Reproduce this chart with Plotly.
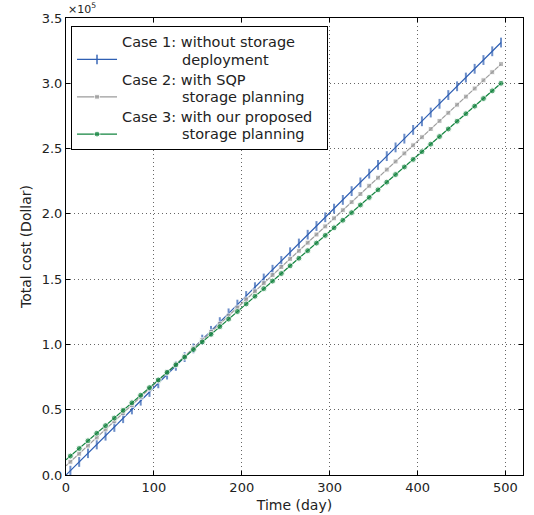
import plotly.graph_objects as go

days = [0, 5, 15, 25, 35, 45, 55, 65, 75, 85, 95, 105, 115, 125, 135, 145, 155, 165, 175, 185,
        195, 205, 215, 225, 235, 245, 255, 265, 275, 285, 295, 305, 315, 325, 335, 345, 355,
        365, 375, 385, 395, 405, 415, 425, 435, 445, 455, 465, 475, 485, 495]

case1 = [0, 3300, 10000, 16700, 23400, 30100, 36800, 43500, 50200, 56900, 63600, 70200, 76900,
         83600, 90300, 97000, 103700, 110400, 117100, 123800, 130500, 137100, 143800, 150500,
         157200, 163900, 170600, 177300, 184000, 190700, 197400, 204000, 210700, 217400, 224100,
         230800, 237500, 244200, 250900, 257600, 264300, 270900, 277600, 284300, 291000, 297700,
         304400, 311100, 317800, 324500, 331200]

case2 = [7000, 10100, 16300, 22500, 28800, 35000, 41200, 47400, 53600, 59800, 66100, 72300, 78500,
         84700, 90900, 97100, 103300, 109600, 115800, 122000, 128200, 134400, 140600, 146900,
         153100, 159300, 165500, 171700, 177900, 184200, 190400, 196600, 202800, 209000, 215200,
         221500, 227700, 233900, 240100, 246300, 252500, 258700, 265000, 271200, 277400, 283600,
         289800, 296000, 302300, 308500, 314700]

case3 = [11600, 14500, 20300, 26200, 32000, 37800, 43600, 49500, 55300, 61100, 66900, 72800, 78600,
         84400, 90300, 96100, 101900, 107700, 113600, 119400, 125200, 131000, 136900, 142700,
         148500, 154300, 160200, 166000, 171800, 177600, 183500, 189300, 195100, 200900, 206800,
         212600, 218400, 224300, 230100, 235900, 241700, 247600, 253400, 259200, 265000, 270900,
         276700, 282500, 288300, 294200, 300000]

ytick_vals = [0, 50000, 100000, 150000, 200000, 250000, 300000, 350000]
ytick_text = ["0.0", "0.5", "1.0", "1.5", "2.0", "2.5", "3.0", "3.5"]
xtick_vals = [0, 100, 200, 300, 400, 500]

legend_lines = [
    ["Case 1: without storage", "deployment"],
    ["Case 2: with SQP", "storage planning"],
    ["Case 3: with our proposed\u00a0\u00a0", "storage planning"],
]

ind = "\u00a0" * 13
def legend_label(lines):
    return "<br>".join(
        '<span style="font-size:14.5px">' + (ind if i > 0 else "") + t + "</span>"
        for i, t in enumerate(lines)
    )

names = [legend_label(l) for l in legend_lines]

blue = "#2f5fb3"
gray = "#9b9b9b"
green = "#13843f"

def sizes(s):
    return [0] + [s] * (len(days) - 1)

fig = go.Figure()
fig.add_trace(go.Scatter(
    x=days, y=case1, name=names[0], mode="lines+markers",
    line=dict(color=blue, width=1.2),
    marker=dict(symbol="line-ns", size=sizes(7), line=dict(color=blue, width=2), color=blue),
))
fig.add_trace(go.Scatter(
    x=days, y=case2, name=names[1], mode="lines+markers",
    line=dict(color=gray, width=1.2),
    marker=dict(symbol="square", size=sizes(5), color=gray),
))
fig.add_trace(go.Scatter(
    x=days, y=case3, name=names[2], mode="lines+markers",
    line=dict(color=green, width=1.2),
    marker=dict(symbol="circle", size=sizes(6), color=green),
))

axis_common = dict(
    showline=True, linecolor="black", linewidth=1, mirror="ticks",
    ticks="inside", ticklen=4, tickcolor="black",
    showgrid=True, gridcolor="#666666", griddash="1px,3px", gridwidth=1,
    zeroline=False, tickfont=dict(size=13, color="#222222"), automargin=False,
)

fig.update_layout(
    width=534, height=515,
    margin=dict(l=66, r=11, t=18, b=40),
    paper_bgcolor="white", plot_bgcolor="white",
    font=dict(family="DejaVu Sans", size=13, color="#222222"),
    xaxis=dict(range=[0, 520], tickvals=xtick_vals,
               title=dict(text="Time (day)", font=dict(size=14), standoff=6), **axis_common),
    yaxis=dict(range=[0, 350000], tickvals=ytick_vals, ticktext=ytick_text,
               title=dict(text="Total cost (Dollar)", font=dict(size=14), standoff=6), **axis_common),
    legend=dict(x=0.011, y=0.982, xanchor="left", yanchor="top",
                bgcolor="white", bordercolor="black", borderwidth=1,
                font=dict(size=13.2, color="#222222"), tracegroupgap=0,
                itemwidth=40, valign="bottom"),
    showlegend=True,
    annotations=[dict(text="×10<sup>5</sup>", xref="paper", yref="paper", x=0, y=1.0,
                      xanchor="left", yanchor="bottom", showarrow=False,
                      font=dict(size=11, color="#222222"), yshift=0)],
)

fig.write_html("out.html")
